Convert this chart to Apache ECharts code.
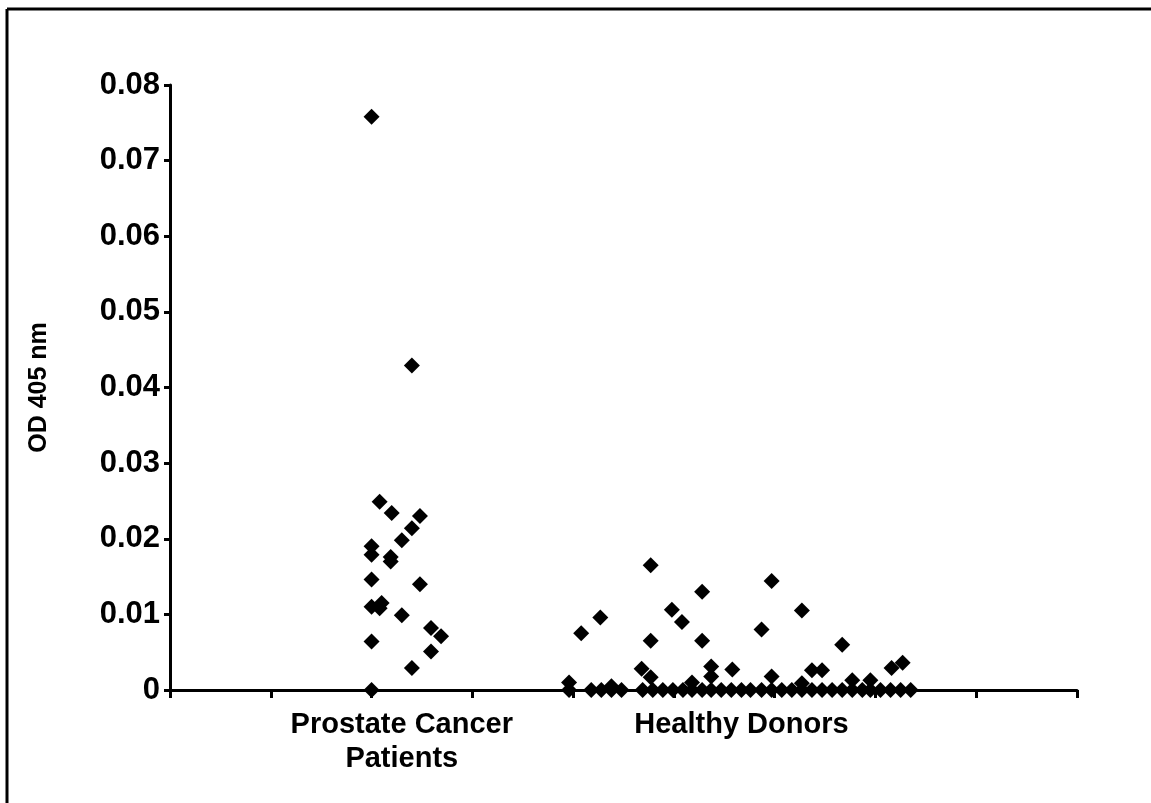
<!DOCTYPE html>
<html>
<head>
<meta charset="utf-8">
<style>html,body{margin:0;padding:0;background:#fff;}#main{width:1151px;height:803px;}</style>
<script src="https://cdn.jsdelivr.net/npm/echarts@6/dist/echarts.min.js"></script>
</head>
<body>
<div id="main"></div>
<script>
// Category labels and their position along the (hidden-label) x axis
var categories = ['Prostate Cancer\nPatients', 'Healthy Donors'];
var categoryPos = [2.3, 5.67];

// y axis ticks
var yTicks = [0, 0.01, 0.02, 0.03, 0.04, 0.05, 0.06, 0.07, 0.08];

// Prostate Cancer Patients: [jitter x, OD 405 nm]
var prostateX = [2.00, 2.40, 2.08, 2.20, 2.48, 2.40, 2.30, 2.00, 2.00, 2.19, 2.19, 2.00, 2.48, 2.00, 2.10, 2.08, 2.30, 2.59, 2.69, 2.00, 2.59, 2.40, 2.00];
var prostateY = [0.0758, 0.0429, 0.0249, 0.0234, 0.0230, 0.0214, 0.0198, 0.0190, 0.0179, 0.0176, 0.0170, 0.0146, 0.0140, 0.0110, 0.0115, 0.0108, 0.0099, 0.0082, 0.0071, 0.0064, 0.0051, 0.0029, 0];

// Healthy Donors, non-zero readings
var healthyX = [4.77, 5.28, 5.97, 4.27, 4.08, 4.98, 5.08, 6.27, 5.87, 4.77, 5.28, 6.67, 4.68, 4.77, 5.37, 5.37, 5.58, 5.97, 6.37, 6.47, 7.16, 7.27, 3.96, 4.38, 5.18, 6.77, 6.95, 6.27];
var healthyY = [0.0165, 0.0130, 0.0144, 0.0096, 0.0075, 0.0106, 0.0090, 0.0105, 0.0080, 0.0065, 0.0065, 0.0060, 0.0028, 0.0017, 0.0031, 0.0018, 0.0027, 0.0018, 0.0026, 0.0026, 0.0029, 0.0036, 0.0010, 0.0005, 0.0010, 0.0013, 0.0013, 0.0009];

// Healthy Donors, zero readings
var healthyZeroX = [3.96, 4.18, 4.28, 4.38, 4.48, 4.69, 4.79, 4.89, 4.99, 5.09, 5.18, 5.28, 5.37, 5.47, 5.57, 5.67, 5.76, 5.87, 5.97, 6.07, 6.17, 6.27, 6.37, 6.47, 6.57, 6.67, 6.77, 6.87, 6.95, 7.05, 7.15, 7.25, 7.35];
var healthyZeroY = healthyZeroX.map(function(){ return 0; });

function zip(xs, ys){ return xs.map(function(x,i){ return [x, ys[i]]; }); }

var FONT = '"Liberation Sans", Arial, sans-serif';
var chart = echarts.init(document.getElementById('main'), null, {renderer:'canvas'});
var sym = { symbol:'diamond', symbolSize:16, itemStyle:{color:'#000', opacity:1} };

chart.setOption({
  animation:false,
  backgroundColor:'#fff',
  grid:{left:170, right:74, top:85, bottom:113, containLabel:false},
  xAxis:{
    type:'value', min:0, max:9, interval:1,
    axisLine:{show:true, lineStyle:{color:'#000', width:3}},
    axisTick:{show:true, length:8, lineStyle:{color:'#000', width:3}},
    axisLabel:{show:false},
    splitLine:{show:false}
  },
  yAxis:{
    type:'value', min:yTicks[0], max:yTicks[yTicks.length-1], interval:0.01,
    name:'OD 405 nm', nameLocation:'middle', nameRotate:90, nameGap:118,
    nameTextStyle:{fontFamily:FONT, fontWeight:'bold', fontSize:25, color:'#000'},
    axisLine:{show:true, lineStyle:{color:'#000', width:3}},
    axisTick:{show:true, length:6, lineStyle:{color:'#000', width:3}},
    axisLabel:{margin:10, fontFamily:FONT, fontWeight:'bold', fontSize:31, color:'#000',
      formatter:function(v){ return v === 0 ? '0' : v.toFixed(2); }},
    splitLine:{show:false}
  },
  series:[
    Object.assign({type:'scatter', name:'Prostate Cancer Patients', data:zip(prostateX, prostateY)}, sym),
    Object.assign({type:'scatter', name:'Healthy Donors', data:zip(healthyX, healthyY)}, sym),
    Object.assign({type:'scatter', name:'Healthy Donors (0)', data:zip(healthyZeroX, healthyZeroY)}, sym)
  ]
});

var y0 = chart.convertToPixel({yAxisIndex:0}, 0);
var texts = categories.map(function(c, i){
  return {
    type:'text',
    x: chart.convertToPixel({xAxisIndex:0}, categoryPos[i]),
    y: y0 + 18,
    style:{text:c, align:'center', verticalAlign:'top', font:'bold 29px ' + FONT, lineHeight:34, fill:'#000'}
  };
});
texts.push({type:'line', shape:{x1:7, y1:9, x2:1151, y2:9}, style:{stroke:'#000', lineWidth:3}});
texts.push({type:'line', shape:{x1:7, y1:9, x2:7, y2:803}, style:{stroke:'#000', lineWidth:3}});
chart.setOption({graphic:texts});
</script>
</body>
</html>
